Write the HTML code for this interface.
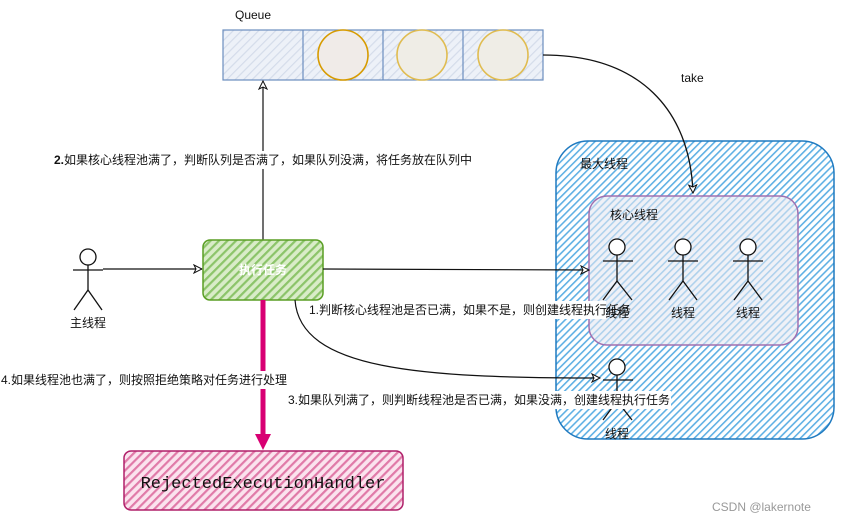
<!DOCTYPE html>
<html><head><meta charset="utf-8"><style>
html,body{margin:0;padding:0;background:#fff;}
svg{display:block;font-family:"Liberation Sans","Noto Sans CJK SC",sans-serif;}
.lbl{font-size:12px;fill:#111;}
</style></head><body>
<svg width="845" height="522" viewBox="0 0 845 522" xmlns="http://www.w3.org/2000/svg">
<defs>
<pattern id="hb" width="5" height="5" patternUnits="userSpaceOnUse" patternTransform="rotate(-45)">
<rect width="5" height="5" fill="#ffffff"/><rect width="5" height="1.6" fill="#5fb0e4"/></pattern>
<pattern id="hq" width="6" height="6" patternUnits="userSpaceOnUse" patternTransform="rotate(-45)">
<rect width="6" height="6" fill="#edf1f8"/><rect width="6" height="1.2" fill="#d4dcea"/></pattern>
<pattern id="hg" width="6" height="6" patternUnits="userSpaceOnUse" patternTransform="rotate(-45)">
<rect width="6" height="6" fill="#d9ecc8"/><rect width="6" height="2.2" fill="#8cc46a"/></pattern>
<pattern id="hp" width="6" height="6" patternUnits="userSpaceOnUse" patternTransform="rotate(-45)">
<rect width="6" height="6" fill="#fbe3ee"/><rect width="6" height="2.2" fill="#e07aa8"/></pattern>
<marker id="ao" markerWidth="10" markerHeight="10" refX="9" refY="5" orient="auto" markerUnits="userSpaceOnUse">
<path d="M1,1 L9,5 L1,9 L3,5 Z" fill="#fff" stroke="#111" stroke-width="1"/></marker>
</defs>

<rect x="556" y="141" width="278" height="298" rx="32" fill="url(#hb)" stroke="#1f7ac0" stroke-width="1.5"/>
<text x="580" y="168" class="lbl">最大线程</text>
<rect x="589" y="196" width="209" height="149" rx="18" fill="#e4e8f2" fill-opacity="0.6" stroke="#a070b0" stroke-width="1.5"/>
<text x="610" y="219" class="lbl">核心线程</text>

<text x="235" y="19" class="lbl" font-size="11">Queue</text>
<rect x="223" y="30" width="320" height="50" fill="url(#hq)" stroke="#6c8ebf" stroke-width="1.2"/>
<line x1="303" y1="30" x2="303" y2="80" stroke="#6c8ebf" stroke-width="1.2"/>
<line x1="383" y1="30" x2="383" y2="80" stroke="#6c8ebf" stroke-width="1.2"/>
<line x1="463" y1="30" x2="463" y2="80" stroke="#6c8ebf" stroke-width="1.2"/>
<circle cx="343" cy="55" r="25" fill="#f0ebe8" stroke="#d79b00" stroke-width="1.6"/>
<circle cx="422" cy="55" r="25" fill="#efede6" stroke="#e0bc50" stroke-width="1.6"/>
<circle cx="503" cy="55" r="25" fill="#efede6" stroke="#e0bc50" stroke-width="1.6"/>

<path d="M543,55 C640,55 690,110 693,193" fill="none" stroke="#111" stroke-width="1.3" marker-end="url(#ao)"/>
<rect x="678" y="70" width="28" height="16" fill="#fff"/>
<text x="681" y="82" class="lbl">take</text>

<g stroke="#111" stroke-width="1.3" fill="none">
<circle cx="88" cy="257" r="8" fill="#fff"/>
<line x1="88" y1="265" x2="88" y2="290"/><line x1="73" y1="270" x2="103" y2="270"/>
<line x1="88" y1="290" x2="74" y2="310"/><line x1="88" y1="290" x2="102" y2="310"/>
</g>
<text x="88" y="327" class="lbl" text-anchor="middle">主线程</text>
<line x1="103" y1="269" x2="202" y2="269" stroke="#111" stroke-width="1.2" marker-end="url(#ao)"/>

<line x1="263" y1="240" x2="263" y2="81" stroke="#111" stroke-width="1.2" marker-end="url(#ao)"/>
<rect x="52" y="151" width="426" height="18" fill="#fff"/>
<text x="54" y="164" class="lbl"><tspan font-weight="bold">2.</tspan>如果核心线程池满了，判断队列是否满了，如果队列没满，将任务放在队列中</text>

<rect x="203" y="240" width="120" height="60" rx="7" fill="url(#hg)" stroke="#5a9e24" stroke-width="1.5"/>
<text x="263" y="274" font-size="12" fill="#fff" font-weight="bold" text-anchor="middle">执行任务</text>

<line x1="323" y1="269" x2="589" y2="270" stroke="#111" stroke-width="1.2" marker-end="url(#ao)"/>
<path d="M295,300 C300,370 420,378 600,378" fill="none" stroke="#111" stroke-width="1.2" marker-end="url(#ao)"/>

<line x1="263" y1="300" x2="263" y2="436" stroke="#d80073" stroke-width="5"/>
<path d="M255,434 L263,450 L271,434 Z" fill="#d80073"/>

<g stroke="#111" stroke-width="1.3" fill="none">
<circle cx="617" cy="247" r="8" fill="#fff"/><line x1="617" y1="255" x2="617" y2="281"/><line x1="603" y1="261" x2="633" y2="261"/><line x1="617" y1="281" x2="603" y2="300"/><line x1="617" y1="281" x2="632" y2="300"/>
<circle cx="683" cy="247" r="8" fill="#fff"/><line x1="683" y1="255" x2="683" y2="281"/><line x1="668" y1="261" x2="698" y2="261"/><line x1="683" y1="281" x2="669" y2="300"/><line x1="683" y1="281" x2="697" y2="300"/>
<circle cx="748" cy="247" r="8" fill="#fff"/><line x1="748" y1="255" x2="748" y2="281"/><line x1="733" y1="261" x2="763" y2="261"/><line x1="748" y1="281" x2="734" y2="300"/><line x1="748" y1="281" x2="762" y2="300"/>
<circle cx="617" cy="367" r="8" fill="#fff"/><line x1="617" y1="375" x2="617" y2="401"/><line x1="603" y1="380" x2="633" y2="380"/><line x1="617" y1="401" x2="603" y2="420"/><line x1="617" y1="401" x2="632" y2="420"/>
</g>
<text x="617" y="317" class="lbl" text-anchor="middle">线程</text>
<text x="683" y="317" class="lbl" text-anchor="middle">线程</text>
<text x="748" y="317" class="lbl" text-anchor="middle">线程</text>
<text x="617" y="438" class="lbl" text-anchor="middle">线程</text>

<rect x="308" y="301" width="298" height="18" fill="#fff"/>
<text x="309" y="314" class="lbl">1.判断核心线程池是否已满，如果不是，则创建线程执行任务</text>
<rect x="287" y="391" width="384" height="18" fill="#fff"/>
<text x="288" y="404" class="lbl">3.如果队列满了，则判断线程池是否已满，如果没满，创建线程执行任务</text>
<rect x="0" y="371" width="288" height="18" fill="#fff"/>
<text x="1" y="384" class="lbl">4.如果线程池也满了，则按照拒绝策略对任务进行处理</text>

<rect x="124" y="451" width="279" height="59" rx="7" fill="url(#hp)" stroke="#b0206a" stroke-width="1.5"/>
<text x="263" y="488" font-family="Liberation Mono, monospace" font-size="17" fill="#111" text-anchor="middle">RejectedExecutionHandler</text>

<text x="712" y="511" font-size="12" fill="#999">CSDN @lakernote</text>
</svg>
</body></html>
